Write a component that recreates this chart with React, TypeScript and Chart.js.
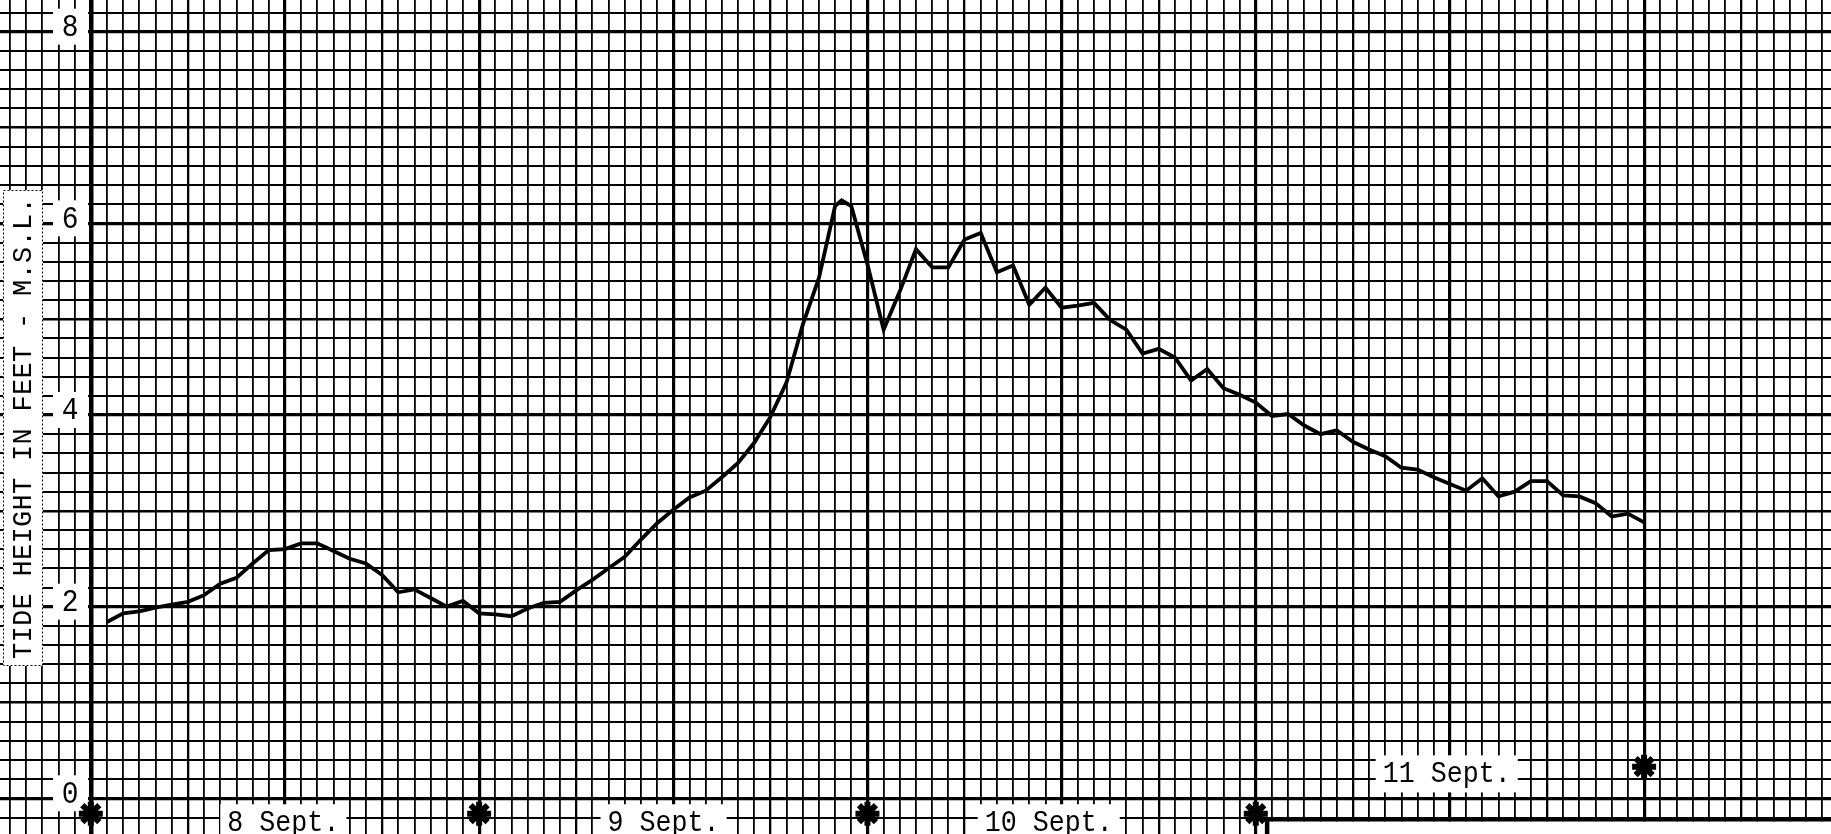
import { useEffect, useRef } from "react";
import { Chart, registerables } from "chart.js";

Chart.register(...registerables);

// Hourly tide readings (hours counted from 8 Sept 00:00)
const hours = [
  1, 2, 3, 4, 5, 6, 7, 8, 9, 10, 11, 12, 13, 14, 15, 16, 17, 18, 19, 20, 21, 22, 23, 24,
  25, 26, 27, 28, 29, 30, 31, 32, 33, 34, 35, 36, 37, 38, 39, 40, 41, 42, 43, 44, 45, 46, 46.4, 47, 48,
  49, 50, 51, 52, 53, 54, 55, 56, 57, 58, 59, 60, 61, 62, 63, 64, 65, 66, 67, 68, 69, 70, 71, 72,
  73, 74, 75, 76, 77, 78, 79, 80, 81, 82, 83, 84, 85, 86, 87, 88, 89, 90, 91, 92, 93, 94, 95, 96,
];
const tideFeet = [
  1.84, 1.93, 1.95, 1.99, 2.02, 2.05, 2.12, 2.24, 2.3, 2.45, 2.59, 2.6, 2.66, 2.66, 2.58, 2.5, 2.45, 2.33, 2.15, 2.18, 2.09, 2.0, 2.06, 1.93,
  1.92, 1.9, 1.98, 2.04, 2.05, 2.17, 2.28, 2.4, 2.52, 2.7, 2.87, 3.01, 3.14, 3.21, 3.35, 3.5, 3.71, 3.98, 4.34, 4.94, 5.43, 6.18, 6.24, 6.18, 5.57,
  4.89, 5.29, 5.73, 5.54, 5.54, 5.83, 5.9, 5.49, 5.56, 5.15, 5.33, 5.12, 5.14, 5.17, 4.99, 4.89, 4.64, 4.69, 4.6, 4.36, 4.48, 4.28, 4.21, 4.13,
  3.99, 4.01, 3.89, 3.8, 3.84, 3.72, 3.64, 3.57, 3.45, 3.43, 3.35, 3.28, 3.21, 3.34, 3.15, 3.2, 3.31, 3.31, 3.16, 3.15, 3.08, 2.94, 2.97, 2.88,
];

// Midnight markers (asterisks)
const markHours = [0, 24, 48, 72, 96];
const markFeet = [-0.16, -0.16, -0.16, -0.16, 0.33];

// Day labels
const dayLabels = ["8 Sept.", "9 Sept.", "10 Sept.", "11 Sept."];
const dayLabelHours = [11.9, 35.4, 59.2, 83.8];
const dayLabelFeet = [-0.25, -0.25, -0.25, 0.26];

// Y tick labels
const yTickValues = [0, 2, 4, 6, 8];
const yTickLabels = ["0", "2", "4", "6", "8"];
const yTitle = "TIDE HEIGHT IN FEET - M.S.L.";

const X_MIN = -5.612;
const X_MAX = 107.55;
const Y_MIN = -0.3725;
const Y_MAX = 8.3304;

const FONT = "'Liberation Mono', 'DejaVu Sans Mono', monospace";

const xGridValues: number[] = [];
for (let h = -5; h <= 107; h++) xGridValues.push(h);
const yGridSteps: number[] = [];
for (let k = -1; k <= 41; k++) yGridSteps.push(k);

function drawCondensed(ctx: CanvasRenderingContext2D, text: string, x: number, y: number, sx: number) {
  ctx.save();
  ctx.translate(x, y);
  ctx.scale(sx, 1);
  ctx.fillText(text, 0, 0);
  ctx.restore();
}

const paperPlugin = {
  id: "paperLabels",
  beforeDatasetsDraw(chart: any) {
    const { ctx, scales } = chart;
    const xs = scales.x;
    const ys = scales.y;
    ctx.save();
    ctx.textAlign = "center";
    ctx.textBaseline = "middle";

    // bottom-right blank panel
    const bx = xs.getPixelForValue(72.7);
    const by = ys.getPixelForValue(-0.24);
    ctx.fillStyle = "#fff";
    ctx.fillRect(bx, by, chart.width - bx, chart.height - by);
    ctx.strokeStyle = "#000";
    ctx.lineWidth = 4.5;
    ctx.beginPath();
    ctx.moveTo(bx, chart.height);
    ctx.lineTo(bx, by - 2);
    ctx.lineTo(chart.width, by - 2);
    ctx.stroke();

    // y tick labels
    ctx.font = `31px ${FONT}`;
    yTickValues.forEach((v, i) => {
      const px = 70;
      const py = ys.getPixelForValue(v) - 5;
      ctx.fillStyle = "#fff";
      ctx.fillRect(px - 17, py - 18, 35, 36);
      ctx.fillStyle = "#000";
      drawCondensed(ctx, yTickLabels[i], px, py + 1, 0.9);
    });

    // day labels
    ctx.font = `29px ${FONT}`;
    dayLabels.forEach((t, i) => {
      const px = xs.getPixelForValue(dayLabelHours[i]);
      const py = ys.getPixelForValue(dayLabelFeet[i]);
      const w = ctx.measureText(t).width * 0.92;
      ctx.fillStyle = "#fff";
      ctx.fillRect(px - w / 2 - 7, py - 18, w + 14, 37);
      ctx.fillStyle = "#000";
      drawCondensed(ctx, t, px, py + 1, 0.92);
    });

    // y title
    const tx = 23;
    const ty = 428;
    ctx.fillStyle = "#fff";
    ctx.fillRect(3, 190, 40, 476);
    ctx.strokeStyle = "#000";
    ctx.lineWidth = 1;
    ctx.setLineDash([2, 2]);
    ctx.strokeRect(3.5, 190.5, 39, 475);
    ctx.setLineDash([]);
    ctx.translate(tx, ty);
    ctx.rotate(-Math.PI / 2);
    ctx.fillStyle = "#000";
    ctx.font = `27px ${FONT}`;
    (ctx as any).letterSpacing = "0.3px";
    ctx.fillText(yTitle, 0, 1);
    ctx.restore();
  },
};

export default function App() {
  const canvasRef = useRef<HTMLCanvasElement | null>(null);

  useEffect(() => {
    document.body.style.margin = "0";
    const canvas = canvasRef.current;
    if (!canvas) return;
    const chart = new Chart(canvas, {
      type: "scatter",
      data: {
        datasets: [
          {
            label: "Tide height",
            data: hours.map((h, i) => ({ x: h, y: tideFeet[i] })),
            showLine: true,
            borderColor: "#000",
            borderWidth: 3.8,
            pointRadius: 0,
            tension: 0,
            fill: false,
          },
          {
            label: "Midnight",
            data: markHours.map((h, i) => ({ x: h, y: markFeet[i] })),
            showLine: false,
            pointStyle: "star",
            pointRadius: 12,
            borderColor: "#000",
            backgroundColor: "#000",
            borderWidth: 6,
          },
        ],
      },
      options: {
        responsive: false,
        animation: false,
        layout: { padding: 0, autoPadding: false },
        plugins: { legend: { display: false }, tooltip: { enabled: false } },
        scales: {
          x: {
            type: "linear",
            min: X_MIN,
            max: X_MAX,
            afterBuildTicks: (s: any) => {
              s.ticks = xGridValues.map((v) => ({ value: v }));
            },
            afterFit: (s: any) => {
              s.height = 0;
            },
            ticks: { display: false },
            border: { display: false },
            grid: {
              drawTicks: false,
              color: "#000",
              lineWidth: (c: any) => {
                const v = Math.round(c.tick.value);
                if (v === 0) return 4.5;
                if (v % 12 === 0) return 3.2;
                if (v % 6 === 0) return 2.3;
                return 1.8;
              },
            },
          },
          y: {
            type: "linear",
            min: Y_MIN,
            max: Y_MAX,
            afterBuildTicks: (s: any) => {
              s.ticks = yGridSteps.map((k) => ({ value: k / 5 }));
            },
            afterFit: (s: any) => {
              s.width = 0;
            },
            ticks: { display: false },
            border: { display: false },
            grid: {
              drawTicks: false,
              color: "#000",
              lineWidth: (c: any) => {
                const k = Math.round(c.tick.value * 5);
                if (k % 10 === 0) return 3.2;
                if (k % 5 === 0) return 2.4;
                return 1.9;
              },
            },
          },
        },
      },
      plugins: [paperPlugin],
    } as any);
    return () => chart.destroy();
  }, []);

  return (
    <div style={{ position: "fixed", left: 0, top: 0, width: 1831, height: 834, background: "#fff" }}>
      <canvas ref={canvasRef} width={1831} height={834} style={{ display: "block" }} />
    </div>
  );
}
